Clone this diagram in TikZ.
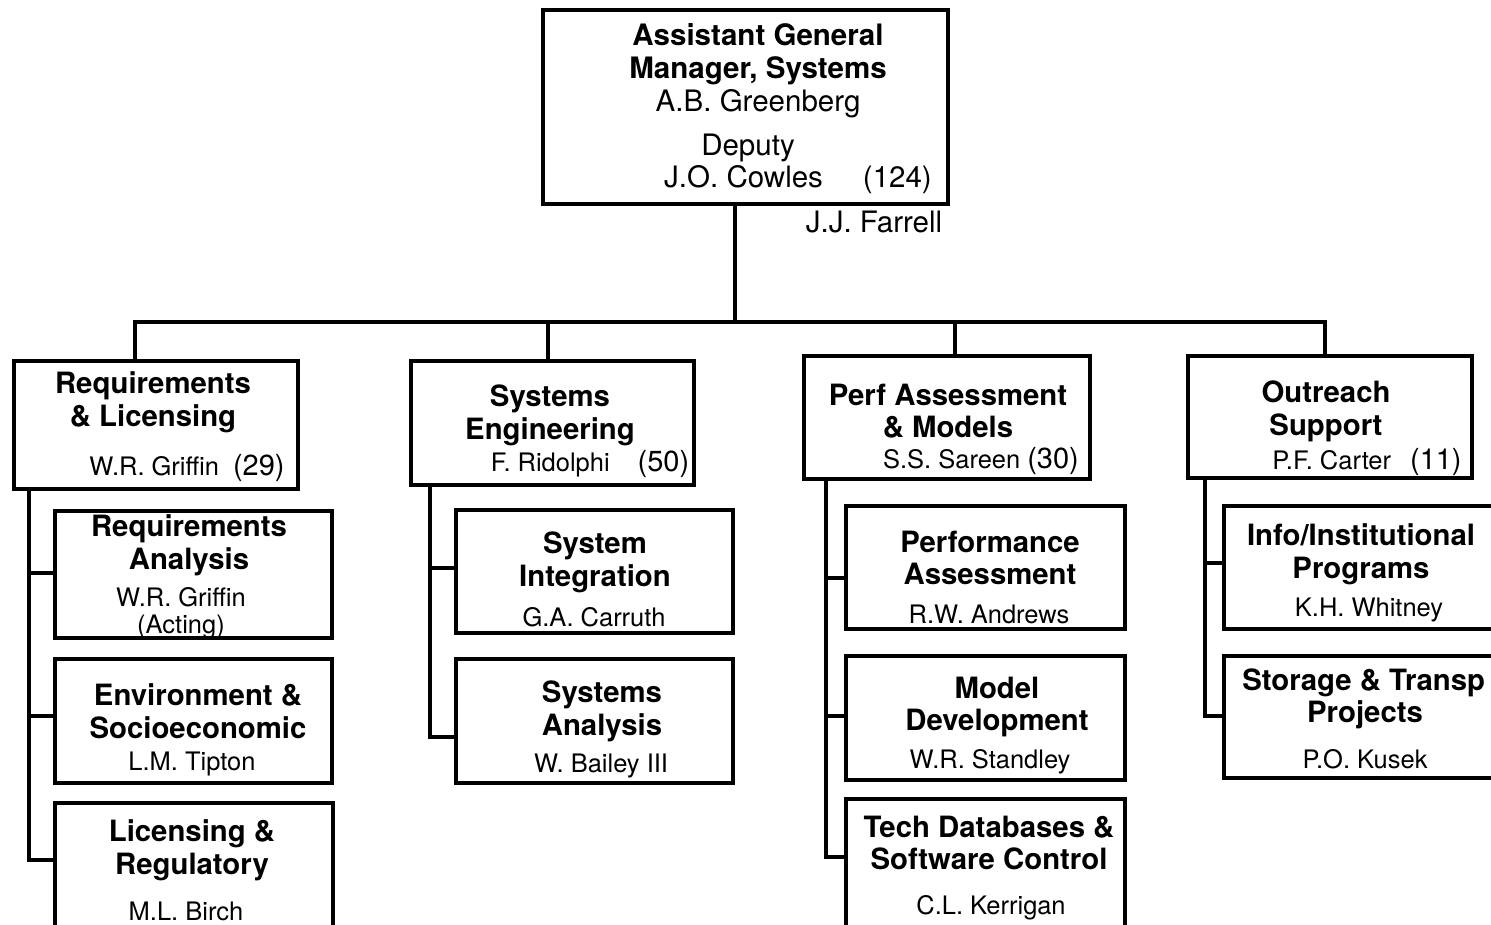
\documentclass[tikz,border=0pt]{standalone}
\usepackage{fontspec}
\setmainfont{TeX Gyre Heros}
\newcommand{\effectif}[1]{{\fontsize{16.5}{16}\selectfont(#1)}}
\tikzset{
  boite/.style={draw, line width=2.2pt, anchor=north west, inner sep=0pt},
  titre/.style={font=\fontsize{16.7}{18.6}\selectfont\bfseries, align=center, inner sep=0pt},
  nom/.style={font=\fontsize{14.5}{15.5}\selectfont, align=center, inner sep=0pt},
  grand/.style={font=\fontsize{16.8}{18.8}\selectfont, align=center, inner sep=0pt},
  lien/.style={line width=2.2pt}
}
\begin{document}
\begin{tikzpicture}[x=0.02cm, y=-0.02cm]
        \useasboundingbox (0,0) rectangle (1491,924);
        \clip (0,0) rectangle (1491,924);

        % Direction
        \node[boite, minimum width=8.1cm, minimum height=3.88cm] (agm) at (541,8) {};
        \node[grand] (agmt) at (758,71) {\bfseries Assistant General\\ \bfseries Manager, Systems\\ A.B. Greenberg};
        \node[grand] (dep) at (748,148) {Deputy};
        \node[grand] (depn) at (798,180) {J.O. Cowles\hspace{0.8cm}(124)};
        \node[grand] (far) at (874,222) {J.J. Farrell};

        % Divisions
        \node[boite, minimum width=5.68cm, minimum height=2.56cm] (rl) at (12,359) {};
        \node[boite, minimum width=5.66cm, minimum height=2.48cm] (se) at (409,359) {};
        \node[boite, minimum width=5.72cm, minimum height=2.46cm] (pa) at (802,354) {};
        \node[boite, minimum width=5.68cm, minimum height=2.44cm] (os) at (1186,354) {};

        \node[titre] (rlt) at (153,402) {Requirements\\ \& Licensing};
        \node[nom] (rln) at (187,468) {W.R. Griffin\hspace{0.28cm}\effectif{29}};
        \node[titre] (set) at (550,415) {Systems\\ Engineering};
        \node[nom] (sen) at (590,464) {F. Ridolphi\hspace{0.56cm}\effectif{50}};
        \node[titre] (pat) at (948,411) {Perf Assessment\\ \& Models};
        \node[nom] (pan) at (981,461) {S.S. Sareen \effectif{30}};
        \node[titre] (ost) at (1326,411) {Outreach\\ Support};
        \node[nom] (osn) at (1367,462) {P.F. Carter\hspace{0.38cm}\effectif{11}};

        % Branches
        \coordinate (t) at (735,322);
        \coordinate (d1) at (135,322);
        \coordinate (d2) at (548,322);
        \coordinate (d3) at (955,322);
        \coordinate (d4) at (1325,322);
        \draw[lien] (agm.south -| t) -- (t);
        \draw[lien] (rl.north -| d1) -- (d1) -- (d4) -- (os.north -| d4);
        \draw[lien] (d2) -- (se.north -| d2);
        \draw[lien] (d3) -- (pa.north -| d3);

        % Requirements & Licensing
        \node[boite, minimum width=5.54cm, minimum height=2.54cm] (ra) at (53,509) {};
        \node[boite, minimum width=5.54cm, minimum height=2.48cm] (es) at (53,657) {};
        \node[boite, minimum width=5.56cm, minimum height=2.8cm] (lr) at (53,801) {};
        \node[titre] (rat) at (189,545) {Requirements\\ Analysis};
        \node[nom] (ran) at (181,613) {W.R. Griffin\\ (Acting)};
        \node[titre] (est) at (198,711) {Environment \&\\ Socioeconomic};
        \node[nom] (esn) at (192,764) {L.M. Tipton};
        \node[titre] (lrt) at (192,850) {Licensing \&\\ Regulatory};
        \node[nom] (lrn) at (186,911) {M.L. Birch};
        \coordinate (v1) at (29,860);
        \draw[lien] (rl.south -| v1) -- (v1) -- (v1 -| lr.west);
        \foreach \b/\y in {ra/573, es/716} {
            \coordinate (c) at (29,\y);
            \draw[lien] (c) -- (c -| \b.west);
        }

        % Systems Engineering
        \node[boite, minimum width=5.54cm, minimum height=2.46cm] (si) at (454,508) {};
        \node[boite, minimum width=5.54cm, minimum height=2.48cm] (sa) at (454,657) {};
        \node[titre] (sit) at (595,562) {System\\ Integration};
        \node[nom] (sin) at (594,617) {G.A. Carruth};
        \node[titre] (sat) at (602,711) {Systems\\ Analysis};
        \node[nom] (san) at (601,766) {W. Bailey III};
        \coordinate (v2) at (430,737);
        \draw[lien] (se.south -| v2) -- (v2) -- (v2 -| sa.west);
        \coordinate (c) at (430,568);
        \draw[lien] (c) -- (c -| si.west);

        % Perf Assessment & Models
        \node[boite, minimum width=5.58cm, minimum height=2.46cm] (pf) at (844,504) {};
        \node[boite, minimum width=5.58cm, minimum height=2.48cm] (md) at (844,654) {};
        \node[boite, minimum width=5.58cm, minimum height=2.9cm] (td) at (844,797) {};
        \node[titre] (pft) at (990,558) {Performance\\ Assessment};
        \node[nom] (pfn) at (989,614) {R.W. Andrews};
        \node[titre] (mdt) at (997,707) {Model\\ Development};
        \node[nom] (mdn) at (990,762) {W.R. Standley};
        \node[titre] (tdt) at (989,843) {Tech Databases \&\\ Software Control};
        \node[nom] (tdn) at (991,908) {C.L. Kerrigan};
        \coordinate (v3) at (826,857);
        \draw[lien] (pa.south -| v3) -- (v3) -- (v3 -| td.west);
        \foreach \b/\y in {pf/578, md/716} {
            \coordinate (c) at (826,\y);
            \draw[lien] (c) -- (c -| \b.west);
        }

        % Outreach Support
        \node[boite, minimum width=5.94cm, minimum height=2.46cm] (ii) at (1222,504) {};
        \node[boite, minimum width=5.94cm, minimum height=2.44cm] (st) at (1222,654) {};
        \node[titre] (iit) at (1361,554) {Info/Institutional\\ Programs};
        \node[nom] (iin) at (1369,610) {K.H. Whitney};
        \node[titre, anchor=west] (stt) at (1242,683) {Storage \& Transp};
        \node[titre] (stp) at (1365,715) {Projects};
        \node[nom] (stn) at (1365,759) {P.O. Kusek};
        \coordinate (v4) at (1205,716);
        \draw[lien] (os.south -| v4) -- (v4) -- (v4 -| st.west);
        \coordinate (c) at (1205,563);
        \draw[lien] (c) -- (c -| ii.west);
    \end{tikzpicture}
\end{document}
